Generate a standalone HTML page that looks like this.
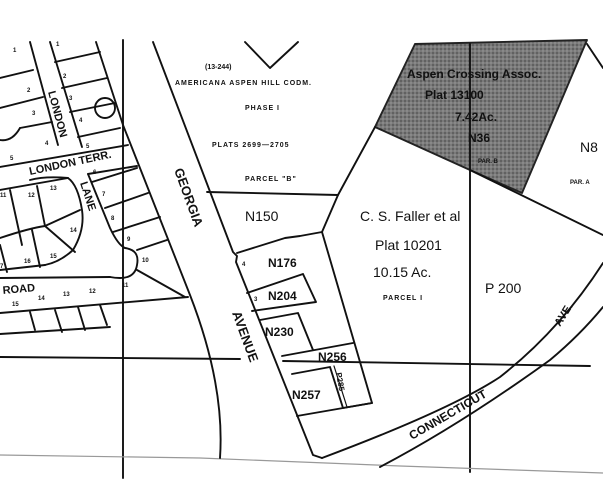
<!DOCTYPE html>
<html><head><meta charset="utf-8"><style>
html,body{margin:0;padding:0;background:#fff;width:603px;height:489px;overflow:hidden}
svg{display:block}
text{font-family:"Liberation Sans",sans-serif;font-weight:bold;fill:#111}
</style></head><body>
<svg width="603" height="489" viewBox="0 0 603 489">
<defs>
<pattern id="dots" width="4" height="4" patternUnits="userSpaceOnUse">
<rect width="4" height="4" fill="#7a7a7a"/><circle cx="1" cy="1" r="0.9" fill="#4e4e4e"/><circle cx="3" cy="3" r="0.7" fill="#a0a0a0"/>
</pattern>
</defs>
<g fill="none" stroke="#111" stroke-width="1.9" stroke-linecap="round" stroke-linejoin="round">
<polygon points="415,44 587,40 522,193 470,170 375,127" fill="url(#dots)" stroke="#222"/>
<polyline points="245,42 270,68 298,42"/>
<line x1="123" y1="40" x2="123" y2="478"/>
<line x1="470" y1="44" x2="470" y2="472"/>
<line x1="0" y1="357" x2="240" y2="359"/>
<line x1="283" y1="361" x2="590" y2="366"/>
<polyline points="0,455 200,458 400,466 603,473" stroke="#999" stroke-width="1.2"/>
<polyline points="153,42 233,252 237,256 236,262 313,455 322,458"/>
<path d="M96,42 L123,125 L190,295 Q225,385 220,458"/>
<polyline points="207,192 338,195 375,127"/>
<polyline points="338,195 322,232 300,236 285,238 237,253"/>
<polyline points="322,232 372,403 297,416"/>
<line x1="470" y1="170" x2="603" y2="235"/>
<line x1="587" y1="44" x2="603" y2="68"/>
<polyline points="247,293 303,274 316,302 252,311"/>
<polyline points="260,320 298,313 313,350"/>
<line x1="282" y1="356" x2="353" y2="343"/>
<polyline points="292,374 330,367 343,408 372,403"/>
<line x1="334" y1="366" x2="347" y2="407" stroke-width="1.2"/>
<path d="M322,458 Q450,410 500,377 Q560,330 603,263"/>
<path d="M380,467 Q460,425 550,360 Q580,335 603,307"/>
<path d="M30,42 L58,145"/>
<path d="M50,42 L82,147"/>
<line x1="0" y1="78" x2="33" y2="70"/>
<line x1="0" y1="108" x2="43" y2="97"/>
<line x1="20" y1="128" x2="52" y2="122"/>
<path d="M0,140 Q12,142 20,128"/>
<line x1="55" y1="62" x2="100" y2="52"/>
<line x1="62" y1="88" x2="107" y2="78"/>
<line x1="70" y1="112" x2="115" y2="103"/>
<line x1="78" y1="137" x2="120" y2="128"/>
<circle cx="105" cy="108" r="10"/>
<line x1="0" y1="167" x2="128" y2="145"/>
<line x1="0" y1="190" x2="68" y2="178"/>
<line x1="88" y1="174" x2="137" y2="166"/>
<path d="M88,174 L110,228 Q118,245 125,248"/>
<path d="M30,180 Q45,176 68,178 Q78,185 82,210 Q85,230 73,250 Q60,262 45,265"/>
<line x1="0" y1="270" x2="45" y2="265"/>
<line x1="10" y1="190" x2="22" y2="245"/>
<line x1="37" y1="186" x2="45" y2="226"/>
<path d="M0,238 Q30,228 45,226 L80,210"/>
<line x1="45" y1="226" x2="75" y2="252"/>
<line x1="32" y1="230" x2="40" y2="267"/>
<line x1="0" y1="245" x2="7" y2="272"/>
<line x1="92" y1="182" x2="137" y2="168"/>
<line x1="105" y1="208" x2="148" y2="193"/>
<line x1="113" y1="232" x2="160" y2="217"/>
<line x1="137" y1="250" x2="167" y2="240"/>
<path d="M125,248 Q140,250 137,265 Q135,278 120,278 Q115,278 110,277"/>
<line x1="137" y1="270" x2="185" y2="297"/>
<line x1="0" y1="278" x2="110" y2="277"/>
<line x1="0" y1="313" x2="188" y2="297"/>
<line x1="30" y1="312" x2="35" y2="330"/>
<line x1="55" y1="310" x2="62" y2="332"/>
<line x1="78" y1="307" x2="85" y2="330"/>
<line x1="100" y1="305" x2="107" y2="325"/>
<line x1="0" y1="334" x2="110" y2="327"/>
</g>
<g font-size="7">
<text x="205" y="69">(13-244)</text>
<text x="175" y="85" letter-spacing="1">AMERICANA  ASPEN  HILL  CODM.</text>
<text x="245" y="110" letter-spacing="1">PHASE  I</text>
<text x="212" y="147" letter-spacing="1">PLATS  2699—2705</text>
<text x="245" y="181" letter-spacing="1">PARCEL  "B"</text>
<text x="383" y="300" letter-spacing="1">PARCEL  I</text>
<text x="478" y="163" font-size="6">PAR. B</text>
<text x="570" y="184" font-size="6">PAR. A</text>
</g>
<g font-size="14">
<text x="245" y="221" style="font-weight:normal">N150</text>
<text x="360" y="221" style="font-weight:normal">C. S. Faller  et al</text>
<text x="375" y="250" style="font-weight:normal">Plat  10201</text>
<text x="373" y="277" style="font-weight:normal">10.15  Ac.</text>
<text x="485" y="293" style="font-weight:normal">P 200</text>
<text x="580" y="152" style="font-weight:normal">N8</text>
</g>
<g font-size="12">
<text x="407" y="78">Aspen Crossing Assoc.</text>
<text x="425" y="99">Plat  13100</text>
<text x="455" y="121">7.42Ac.</text>
<text x="468" y="142">N36</text>
<text x="268" y="267">N176</text>
<text x="268" y="300">N204</text>
<text x="265" y="336">N230</text>
<text x="318" y="361">N256</text>
<text x="292" y="399">N257</text>
</g>
<text x="0" y="0" font-size="8" transform="translate(336,373) rotate(80)">P285</text>
<text x="0" y="0" font-size="13" transform="translate(174,170) rotate(70)">GEORGIA</text>
<text x="0" y="0" font-size="13" transform="translate(232,313) rotate(70)">AVENUE</text>
<text x="0" y="0" font-size="12" transform="translate(412,440) rotate(-30)">CONNECTICUT</text>
<text x="0" y="0" font-size="11" transform="translate(560,327) rotate(-58)">AVE.</text>
<text x="0" y="0" font-size="11" transform="translate(48,92) rotate(75)">LONDON</text>
<text x="0" y="0" font-size="11" transform="translate(30,175) rotate(-12)">LONDON TERR.</text>
<text x="0" y="0" font-size="11" transform="translate(80,183) rotate(72)">LANE</text>
<text x="0" y="0" font-size="11" transform="translate(3,294) rotate(-5)">ROAD</text>
<g font-size="6">
<text x="13" y="52">1</text><text x="27" y="92">2</text><text x="32" y="115">3</text><text x="45" y="145">4</text><text x="10" y="160">5</text>
<text x="56" y="46">1</text><text x="63" y="78">2</text><text x="69" y="100">3</text><text x="79" y="122">4</text><text x="86" y="148">5</text>
<text x="93" y="174">6</text><text x="102" y="196">7</text><text x="111" y="220">8</text><text x="127" y="241">9</text><text x="142" y="262">10</text><text x="122" y="287">11</text>
<text x="50" y="190">13</text><text x="28" y="197">12</text><text x="0" y="197">11</text><text x="70" y="232">14</text><text x="50" y="258">15</text><text x="24" y="263">16</text><text x="0" y="268">7</text>
<text x="12" y="306">15</text><text x="38" y="300">14</text><text x="63" y="296">13</text><text x="89" y="293">12</text>
<text x="242" y="266">4</text><text x="254" y="301">3</text>
</g>
</svg>
</body></html>
